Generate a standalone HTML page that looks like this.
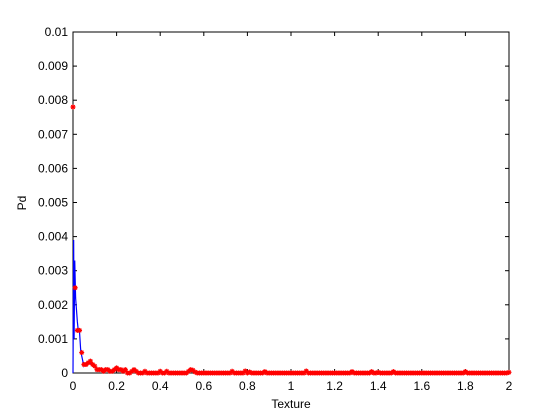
<!DOCTYPE html>
<html><head><meta charset="utf-8"><style>
body{margin:0;background:#fff;}
svg{display:block;font-family:"Liberation Sans",Arial,sans-serif;}
</style></head><body>
<svg id="chart" width="560" height="420" viewBox="0 0 560 420" xmlns="http://www.w3.org/2000/svg">
<rect x="0" y="0" width="560" height="420" fill="#fff"/>
<rect x="73" y="32" width="436" height="341" fill="#fff" stroke="#000" stroke-width="1"/>
<g id="ticks"></g>
<g id="blue"></g>
<g id="red"></g>
<text x="291" y="408" font-size="12" text-anchor="middle">Texture</text>
<text x="26" y="203" font-size="12" text-anchor="middle" transform="rotate(-90 26 203)">Pd</text>
</svg>
<script>
const xTicks=[0,0.2,0.4,0.6,0.8,1,1.2,1.4,1.6,1.8,2];
const xTickLabels=["0","0.2","0.4","0.6","0.8","1","1.2","1.4","1.6","1.8","2"];
const yTicks=[0,0.001,0.002,0.003,0.004,0.005,0.006,0.007,0.008,0.009,0.01];
const yTickLabels=["0","0.001","0.002","0.003","0.004","0.005","0.006","0.007","0.008","0.009","0.01"];
const redStep=0.01;
const redY=[
0.0078,0.0025,0.00125,0.00125,0.0006,0.00025,0.00025,0.0003,0.00035,0.00025,
0.0002,0.0001,0.0001,0.0001,0.00005,0.0001,0.0001,0.00005,0.00005,0.0001,
0.00015,0.0001,0.0001,0.00005,0.0001,0,0,0.00005,0.0001,0.00005,
0,0,0,0.00005,0,0,0,0,0,0,
0.00005,0,0,0.00005,0,0,0,0,0,0,
0,0,0,0.00005,0.0001,0.00008,0.00003,0,0,0,
0,0,0,0,0,0,0,0,0,0,
0,0,0,0.00005,0,0,0,0,0,0.00006,
0,0.00003,0,0,0,0,0,0,0.00004,0,
0,0,0,0,0,0,0,0,0,0,
0,0,0,0,0,0,0,0.00006,0,0,
0,0,0,0,0,0,0,0,0,0,
0,0,0,0,0,0,0,0,0.00004,0,
0,0,0,0,0,0,0,0.00004,0,0,
0.00002,0,0,0,0,0,0,0.00004,0,0,
0,0,0,0,0,0,0,0,0,0,
0,0,0,0,0,0,0,0,0,0,
0,0,0,0,0,0,0,0,0,0,
0.00004,0,0,0,0,0,0,0,0,0,
0,0,0,0,0,0,0,0,0,0,
0.00002];
const blueHeadX=[0,0.003,0.005,0.008,0.012,0.02,0.025,0.03,0.035,0.04,0.05,0.06,0.07,0.08,0.09];
const blueHeadY=[0,0.0039,0.001,0.0033,0.0022,0.0015,0.0012,0.0012,0.0007,0.0005,0.0002,0.0003,0.0003,0.00028,0.00025];

const NS="http://www.w3.org/2000/svg";
const X0=73,X1=509,Y0=373,Y1=32;
const sx=v=>X0+(v-0)/(2-0)*(X1-X0);
const sy=v=>Y0-(v-0)/(0.01-0)*(Y0-Y1);
const tg=document.getElementById('ticks');
xTicks.forEach((t,i)=>{
  const x=sx(t);
  for(const [a,b] of [[Y0,Y0-4],[Y1,Y1+4]]){
    const l=document.createElementNS(NS,'line');
    l.setAttribute('x1',x);l.setAttribute('x2',x);l.setAttribute('y1',a);l.setAttribute('y2',b);l.setAttribute('stroke','#000');
    
    
    tg.appendChild(l);
  }
  const tx=document.createElementNS(NS,'text');
  tx.setAttribute('x',x);tx.setAttribute('y',390);tx.setAttribute('font-size','12');tx.setAttribute('text-anchor','middle');
  tx.textContent=xTickLabels[i];
  
  
  tg.appendChild(tx);
});
yTicks.forEach((t,i)=>{
  const y=sy(t);
  for(const [a,b] of [[X0,X0+4],[X1,X1-4]]){
    const l=document.createElementNS(NS,'line');
    l.setAttribute('x1',a);l.setAttribute('x2',b);l.setAttribute('y1',y);l.setAttribute('y2',y);l.setAttribute('stroke','#000');
    
    
    tg.appendChild(l);
  }
  const tx=document.createElementNS(NS,'text');
  tx.setAttribute('x',68);tx.setAttribute('y',y+4);tx.setAttribute('font-size','12');tx.setAttribute('text-anchor','end');
  tx.textContent=yTickLabels[i];
  
  
  tg.appendChild(tx);
});
let pts=blueHeadX.map((x,i)=>sx(x)+','+sy(blueHeadY[i]));
for(let i=10;i<redY.length;i++) pts.push(sx(i*redStep)+','+sy(redY[i]));
const pl=document.createElementNS(NS,'polyline');
pl.setAttribute('points',pts.join(' '));pl.setAttribute('fill','none');pl.setAttribute('stroke','#0000ff');pl.setAttribute('stroke-width','1.2');


document.getElementById('blue').appendChild(pl);
const rg=document.getElementById('red');
redY.forEach((v,i)=>{
  const x=sx(i*redStep),y=sy(v);
  const p=document.createElementNS(NS,'path');
  p.setAttribute('d',`M${x-2.5},${y}H${x+2.5}M${x},${y-2.5}V${y+2.5}M${x-1.8},${y-1.8}L${x+1.8},${y+1.8}M${x-1.8},${y+1.8}L${x+1.8},${y-1.8}`);
  p.setAttribute('stroke','#ff0000');p.setAttribute('stroke-width','1.2');
  
  
  rg.appendChild(p);
});
</script>
</body></html>
